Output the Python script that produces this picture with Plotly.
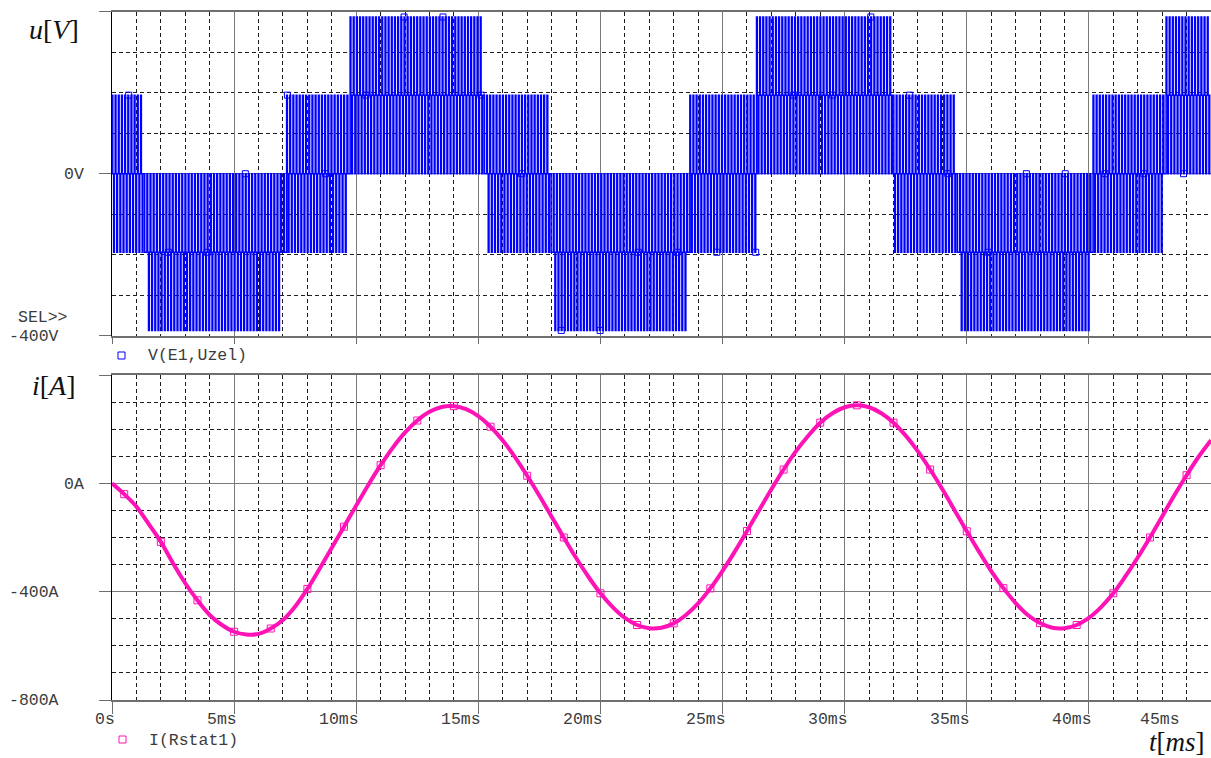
import numpy as np
import plotly.graph_objects as go

W, H = 1211, 758
T_END_MS = 45.0

# ---------------- V(E1,Uzel): five-level PWM output voltage ----------------
SWITCH_PERIOD_MS = 0.13
PULSE_DUTY = 0.3
LEVEL_1_V = 194
LEVEL_2_V = 387

# switching bands: the voltage toggles between band_low_v and band_high_v
band_start_ms = [0.0, 7.1, 23.6, 40.2, 9.76, 26.4, 43.1, 0.0, 15.35, 31.95, 1.46, 18.05, 34.7]
band_end_ms = [1.27, 17.9, 34.55, 45.0, 15.2, 31.95, 45.0, 9.6, 26.4, 43.0, 6.94, 23.55, 40.1]
band_low_v = [0, 0, 0, 0, LEVEL_1_V, LEVEL_1_V, LEVEL_1_V,
              -LEVEL_1_V, -LEVEL_1_V, -LEVEL_1_V, -LEVEL_2_V, -LEVEL_2_V, -LEVEL_2_V]
band_high_v = [LEVEL_1_V, LEVEL_1_V, LEVEL_1_V, LEVEL_1_V, LEVEL_2_V, LEVEL_2_V, LEVEL_2_V,
               0, 0, 0, -LEVEL_1_V, -LEVEL_1_V, -LEVEL_1_V]

# ---------------- I(Rstat1): stator current, sampled every 0.5 ms ----------------
current_t_ms = np.arange(0, 91) * 0.5
current_a = [
    0, -40, -86, -150, -216, -295, -369, -432, -486, -523,
    -548, -558, -556, -536, -505, -455, -390, -315, -238, -160,
    -82, -5, 67, 132, 188, 232, 264, 282, 285, 274,
    248, 209, 158, 97, 28, -46, -123, -200, -275, -344,
    -406, -457, -497, -523, -535, -533, -517, -486, -443, -388,
    -323, -252, -176, -99, -22, 51, 118, 175, 224, 259,
    281, 288, 281, 259, 224, 176, 118, 51, -22, -99,
    -177, -252, -324, -387, -442, -486, -516, -533, -535, -523,
    -497, -457, -406, -343, -274, -200, -122, -44, 30, 99,
    159,
]

# tick labels
x_tick_ms = [0, 5, 10, 15, 20, 25, 30, 35, 40, 45]
x_tick_text = ["0s", "5ms", "10ms", "15ms", "20ms", "25ms", "30ms", "35ms", "40ms", "45ms"]

BLUE = "#0000ff"
PINK = "#ff12b6"
TXT = "#3c3c3c"
MONO = "Liberation Mono"
SERIF = "Liberation Serif"


def build_pwm(starts, ends, lows, highs, period, duty, t_end):
    """Step waveform: in every carrier period, visit all levels of the active bands."""
    xs, ys = [], []
    n = int(round(t_end / period))
    for k in range(n):
        t0 = k * period
        tm = t0 + period / 2
        lv = set()
        for s, e, lo, hi in zip(starts, ends, lows, highs):
            if s <= tm < e:
                lv.update((lo, hi))
        levels = sorted(lv, reverse=True) or [0]
        if len(levels) == 2:
            seq = [(levels[0], duty), (levels[1], 1 - duty)]
        else:
            steps = levels + levels[-2:0:-1]
            seq = [(lvl, 1.0 / len(steps)) for lvl in steps]
        t = t0
        for lvl, frac in seq:
            xs += [t, t + frac * period]
            ys += [lvl, lvl]
            t += frac * period
    return xs, ys


v_t, v_val = build_pwm(band_start_ms, band_end_ms, band_low_v, band_high_v,
                       SWITCH_PERIOD_MS, PULSE_DUTY, T_END_MS)

fig = go.Figure()

fig.add_trace(go.Scatter(x=v_t, y=v_val, mode="lines", xaxis="x", yaxis="y",
                         line=dict(color=BLUE, width=1.5), hoverinfo="skip"))
fig.add_trace(go.Scatter(x=v_t[41::97], y=v_val[41::97], mode="markers", xaxis="x", yaxis="y",
                         marker=dict(symbol="square-open", size=6, color=BLUE,
                                     line=dict(width=1, color=BLUE)), hoverinfo="skip"))

fig.add_trace(go.Scatter(x=current_t_ms, y=current_a, mode="lines", xaxis="x2", yaxis="y2",
                         line=dict(color=PINK, width=4, shape="spline"), hoverinfo="skip"))
fig.add_trace(go.Scatter(x=current_t_ms[1::3], y=current_a[1::3], mode="markers",
                         xaxis="x2", yaxis="y2",
                         marker=dict(symbol="square-open", size=7, color=PINK,
                                     line=dict(width=1, color="#ff6fd0")), hoverinfo="skip"))


def px(x):
    return x / W


def py(y):
    return 1 - y / H


left = px(112)
top_dom = [py(335.7), py(11.7)]
bot_dom = [py(700), py(375)]

common_x = dict(range=[0, T_END_MS], tick0=0, dtick=5, showgrid=True, gridcolor="#7a7a7a",
                gridwidth=1, zeroline=False, showticklabels=False,
                minor=dict(dtick=1, tick0=0, showgrid=True, griddash="4px,3px",
                           gridcolor="#1e1e1e", gridwidth=1),
                showline=True, linecolor="#6e6e6e", linewidth=2, mirror=True,
                ticks="outside", tickcolor="#6e6e6e", tickwidth=1)
common_y = dict(tick0=0, dtick=400, showgrid=True, gridcolor="#7a7a7a", gridwidth=1,
                zeroline=False, showticklabels=False,
                minor=dict(dtick=100, tick0=0, showgrid=True, griddash="4px,3px",
                           gridcolor="#1e1e1e", gridwidth=1),
                showline=True, linecolor="#000000", linewidth=1,
                ticks="outside", ticklen=12, tickcolor="#6e6e6e", tickwidth=1)

fig.update_layout(
    width=W, height=H, autosize=False,
    margin=dict(l=0, r=0, t=0, b=0),
    paper_bgcolor="white", plot_bgcolor="white",
    showlegend=False,
    xaxis=dict(domain=[left, 1], anchor="y", ticklen=6, **common_x),
    yaxis=dict(domain=top_dom, anchor="x", range=[-400, 400], **common_y),
    xaxis2=dict(domain=[left, 1], anchor="y2", ticklen=12, **common_x),
    yaxis2=dict(domain=bot_dom, anchor="x2", range=[-800, 400], **common_y),
)

ann = []


def label(text, x, y, anchor="left", size=16.5, family=MONO, color=TXT):
    ann.append(dict(text=text, x=px(x), y=py(y), xref="paper", yref="paper",
                    xanchor=anchor, yanchor="middle", showarrow=False,
                    font=dict(family=family, size=size, color=color)))


# y tick labels
label("0V", 62, 174)
label("SEL>>", 16, 317)
label("-400V", 7, 336)
label("0A", 62, 484)
label("-400A", 7, 592)
label("-800A", 7, 700)

# trace names
label("V(E1,Uzel)", 146, 356)
label("I(Rstat1)", 147, 740)

# axis titles
label("<i>u</i>[<i>V</i>]", 54, 29, anchor="center", size=28, family=SERIF, color="#111")
label("<i>i</i>[<i>A</i>]", 54, 385, anchor="center", size=28, family=SERIF, color="#111")
label("<i>t</i>[<i>ms</i>]", 1177, 742, anchor="center", size=27, family=SERIF, color="#111")

# x tick labels under the lower plot
for tv, tt in zip(x_tick_ms, x_tick_text):
    shift = 5 if tv < T_END_MS else -29
    ann.append(dict(text=tt, x=tv, y=py(719), xref="x2", yref="paper",
                    xanchor="right", yanchor="middle", xshift=shift, showarrow=False,
                    font=dict(family=MONO, size=16.5, color=TXT)))

fig.update_layout(annotations=ann)

# legend symbols
fig.update_layout(shapes=[
    dict(type="rect", xref="paper", yref="paper", x0=px(118), x1=px(125),
         y0=py(359), y1=py(352), line=dict(color=BLUE, width=1)),
    dict(type="rect", xref="paper", yref="paper", x0=px(119), x1=px(126),
         y0=py(743), y1=py(736), line=dict(color=PINK, width=1)),
])

fig.write_html("out.html")
